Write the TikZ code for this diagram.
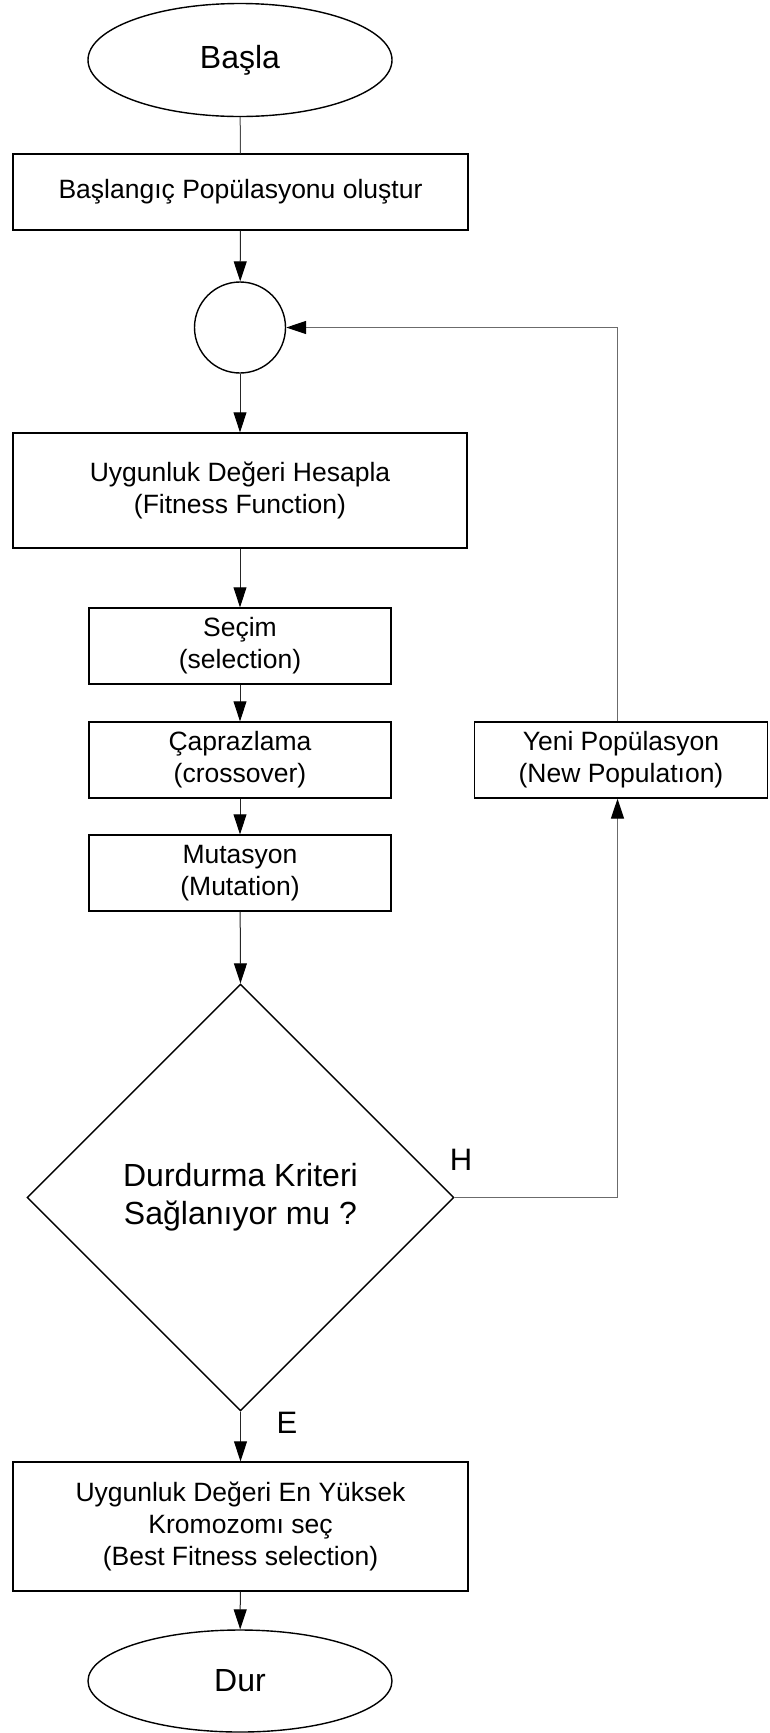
\documentclass[tikz,border=0pt]{standalone}
\usepackage{fontspec}
\setmainfont{Liberation Sans}
\usetikzlibrary{shapes.geometric,arrows.meta}
\begin{document}
\begin{tikzpicture}[x=1pt,y=-1pt,
  boxtext/.style={font=\fontsize{26.5}{32}\selectfont, align=center},
  bigtext/.style={font=\fontsize{32}{38}\selectfont, align=center},
  procbox/.style={draw=black, line width=1.4pt, rectangle, inner sep=0pt, boxtext},
  termbox/.style={draw=black, line width=1.4pt, ellipse, inner sep=0pt, bigtext},
  flow/.style={draw=black!85, line width=1pt, -{Triangle[length=20pt,width=13pt,black]}},
  plainflow/.style={draw=black!70, line width=1pt},
  backflow/.style={draw=black!58, line width=1.4pt, -{Triangle[length=20pt,width=13pt,black]}},
  lbl/.style={font=\fontsize{31}{36}\selectfont, inner sep=0pt}
]
\useasboundingbox (0,0) rectangle (769,1733);
\fill[white] (0,0) rectangle (769,1733);

\node[termbox, minimum width=304pt, minimum height=113pt] (start) at (240,60) {Başla};
\node[procbox, minimum width=455pt, minimum height=76pt] (init) at (240.5,192) {Başlangıç Popülasyonu oluştur};
\node[draw=black, line width=1.4pt, circle, minimum size=91pt, inner sep=0pt] (join) at (240,327.5) {};
\node[procbox, minimum width=454pt, minimum height=115pt] (fit) at (240,490.5) {Uygunluk Değeri Hesapla\\(Fitness Function)};
\node[procbox, minimum width=302pt, minimum height=76pt] (sel) at (240,646) {Seçim\\(selection)};
\node[procbox, minimum width=302pt, minimum height=76pt] (cross) at (240,760) {Çaprazlama\\(crossover)};
\node[procbox, minimum width=302pt, minimum height=76pt] (mut) at (240,873) {Mutasyon\\(Mutation)};
\node[draw=black, line width=1.4pt, diamond, aspect=1, minimum width=427pt, minimum height=427pt, inner sep=0pt, bigtext] (dec) at (240.5,1197.5) {Durdurma Kriteri\\Sağlanıyor mu ?};
\node[procbox, minimum width=455pt, minimum height=129pt] (best) at (240.5,1526.5) {Uygunluk Değeri En Yüksek\\Kromozomı seç\\(Best Fitness selection)};
\node[termbox, minimum width=304pt, minimum height=102pt] (stop) at (240,1681) {Dur};
\node[procbox, minimum width=293pt, minimum height=76pt] (newpop) at (621,760) {Yeni Popülasyon\\(New Populatıon)};

\node[lbl] (hlab) at (461,1160) {H};
\node[lbl] (elab) at (287,1423) {E};

\coordinate (rx) at (617.5,0);

\draw[plainflow] (start) -- (init);
\draw[flow] (init) -- (join);
\draw[flow] (join) -- (fit);
\draw[flow] (fit) -- (sel);
\draw[flow] (sel) -- (cross);
\draw[flow] (cross) -- (mut);
\draw[flow] (mut) -- (dec.north);
\draw[flow] (dec.south) -- (best);
\draw[flow] (best) -- (stop);
\draw[backflow] (dec.east) -| (rx |- newpop.south);
\draw[backflow] (rx |- newpop.north) |- (join.east);
\end{tikzpicture}
\end{document}
